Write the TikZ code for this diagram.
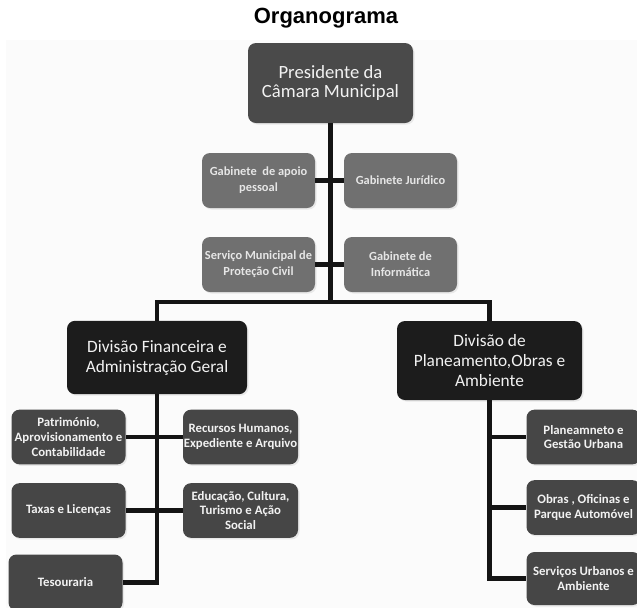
\documentclass[tikz,border=0pt]{standalone}
\usepackage{fontspec}
\usepackage{xcolor}
\usepackage{tikz}
\usetikzlibrary{positioning, calc, shadows}
\newfontfamily\boxfont{Carlito}
\newfontfamily\titlefont{Liberation Sans}
\definecolor{ogBack}{RGB}{251, 251, 251}
\definecolor{ogChief}{RGB}{74, 74, 74}
\definecolor{ogStaff}{RGB}{112, 112, 112}
\definecolor{ogDiv}{RGB}{28, 28, 28}
\definecolor{ogUnit}{RGB}{70, 70, 70}
\definecolor{ogText}{RGB}{242, 242, 242}
\definecolor{ogLine}{RGB}{20, 20, 20}
\tikzset{
    base/.style={
        font=\boxfont,
        align=center,
        rectangle,
        rounded corners=6pt,
        text=ogText,
        inner sep=0pt,
        drop shadow={opacity=0.15, shadow xshift=0.4mm, shadow yshift=-0.4mm}
    },
    chief/.style={
        base,
        fill=ogChief,
        minimum width=123.75pt,
        minimum height=60pt,
        font=\boxfont\fontsize{14}{14}\selectfont
    },
    staff/.style={
        base,
        fill=ogStaff,
        text=ogText!95!black,
        minimum width=84.75pt,
        minimum height=41.25pt,
        font=\boxfont\bfseries\fontsize{9.3}{12}\selectfont
    },
    division/.style={
        base,
        fill=ogDiv,
        minimum width=135pt,
        minimum height=55pt,
        font=\boxfont\fontsize{13}{15}\selectfont
    },
    unit/.style={
        base,
        fill=ogUnit,
        minimum width=85.5pt,
        minimum height=41pt,
        font=\boxfont\bfseries\fontsize{9.6}{11}\selectfont
    },
    link/.style={
        line width=3.2pt,
        color=ogLine
    }
}

\begin{document}
\begin{tikzpicture}[x=0.75pt, y=-0.75pt]
  \useasboundingbox (0,0) rectangle (637,608);
  \fill[ogBack] (6,40) rectangle (637,608);

  % Title
  \node[font=\titlefont\bfseries\fontsize{16.5}{18}\selectfont] (title) at (326,18) {Organograma};

  % Top
  \node[chief] (pres) at (330.5,83) {Presidente da\\Câmara Municipal};

  % Staff offices
  \node[staff] (gabApoio) at (258.5,180.5) {Gabinete \ de apoio\\pessoal};
  \node[staff] (gabJur) at (400.5,180.5) {Gabinete Jurídico};
  \node[staff] (protCivil) at (258.5,264.5) {Serviço Municipal de\\Proteção Civil};
  \node[staff] (gabInf) at (400.5,264.5) {Gabinete de\\Informática};

  % Divisions
  \node[division, minimum height=55pt] (divFin) at (157,357.5) {Divisão Financeira e\\Administração Geral};
  \node[division, minimum width=138.75pt, minimum height=59.25pt] (divPlan) at (489.5,360.5) {Divisão de\\Planeamento,Obras e\\Ambiente};
  \coordinate (hub) at (330.5,302);

  % Units of the financial division
  \node[unit] (patrim) at (68.5,437) {Património,\\Aprovisionamento e\\Contabilidade};
  \node[unit] (taxas) at (68.5,510.5) {Taxas e Licenças};
  \node[unit, minimum height=42pt] (tesour) at (65.5,582.5) {Tesouraria};
  \node[unit, minimum width=86.25pt] (recHum) at (240.5,437) {Recursos Humanos,\\Expediente e Arquivo};
  \node[unit, minimum width=86.25pt] (educ) at (240.5,510.5) {Educação, Cultura,\\Turismo e Ação\\Social};

  % Units of the planning division
  \node[unit] (planUrb) at (583.5,437) {Planeamneto e\\Gestão Urbana};
  \node[unit] (obras) at (583.5,507.5) {Obras , Oficinas e\\Parque Automóvel};
  \node[unit, minimum height=39.75pt] (servUrb) at (583.5,578.5) {Serviços Urbanos e\\Ambiente};

  % Connections
  \draw[link] (pres) -- (hub);
  \draw[link] (gabApoio) -- (gabJur);
  \draw[link] (protCivil) -- (gabInf);
  \draw[link] (divFin.north) |- (hub) -| (divPlan.north);

  \draw[link] (divFin.south) |- (tesour.east);
  \draw[link] (patrim) -- (recHum);
  \draw[link] (taxas) -- (educ);

  \draw[link] (divPlan.south) |- (servUrb.west);
  \draw[link] (divPlan.south |- planUrb.west) -- (planUrb.west);
  \draw[link] (divPlan.south |- obras.west) -- (obras.west);
\end{tikzpicture}
\end{document}
